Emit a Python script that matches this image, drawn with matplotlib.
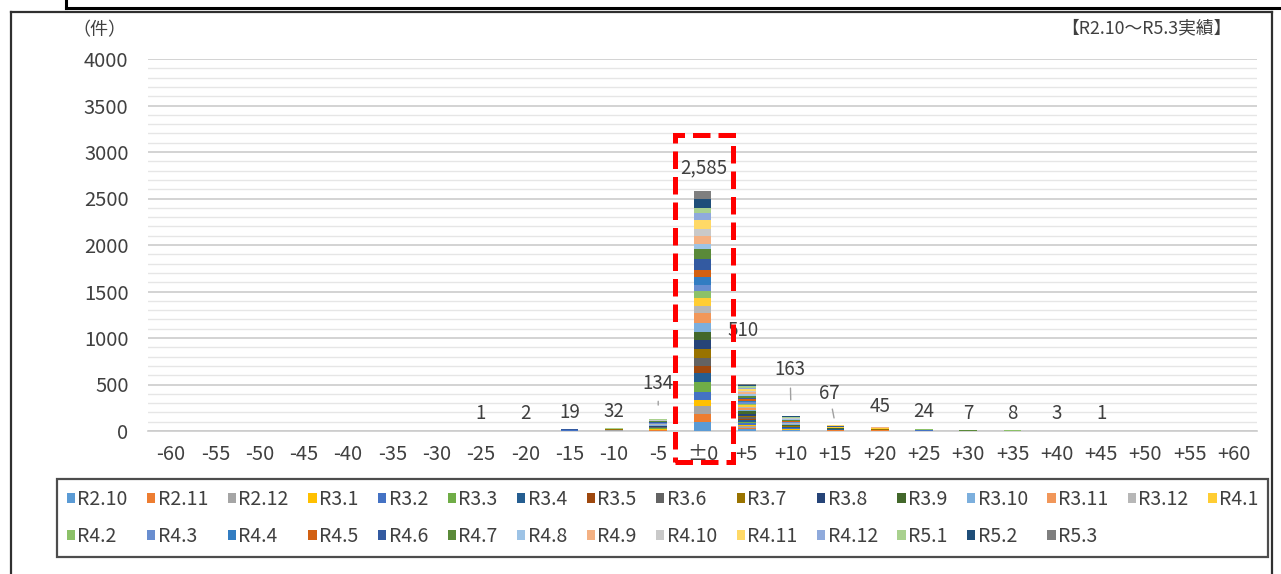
import matplotlib
matplotlib.use("Agg")
import matplotlib.pyplot as plt
from matplotlib.patches import Rectangle, Patch
from matplotlib.lines import Line2D
import numpy as np

plt.rcParams['font.family'] = ['Noto Sans CJK JP', 'DejaVu Sans']

# ---------------- data ----------------
categories = ["-60", "-55", "-50", "-45", "-40", "-35", "-30", "-25", "-20", "-15",
              "-10", "-5", "±0", "+5", "+10", "+15", "+20", "+25", "+30", "+35",
              "+40", "+45", "+50", "+55", "+60"]

series_names = ["R2.10", "R2.11", "R2.12", "R3.1", "R3.2", "R3.3", "R3.4", "R3.5",
                "R3.6", "R3.7", "R3.8", "R3.9", "R3.10", "R3.11", "R3.12", "R4.1",
                "R4.2", "R4.3", "R4.4", "R4.5", "R4.6", "R4.7", "R4.8", "R4.9",
                "R4.10", "R4.11", "R4.12", "R5.1", "R5.2", "R5.3"]

series_colors = ["#5B9BD5", "#ED7D31", "#A5A5A5", "#FFC000", "#4472C4", "#70AD47",
                 "#255E91", "#9E480E", "#636363", "#997300", "#264478", "#43682B",
                 "#7CAFDD", "#F1975A", "#B7B7B7", "#FFCD33", "#8CC168", "#698ED0",
                 "#327DC2", "#D26012", "#335AA1", "#5A8A39", "#9DC3E6", "#F4B183",
                 "#C9C9C9", "#FFD966", "#8FAADC", "#A9D18E", "#1F4E79", "#7F7F7F"]

# counts per series (in series order) for each non-empty category
cnt_m25 = [0,0,0,0,1,0,0,0,0,0,0,0,0,0,0,0,0,0,0,0,0,0,0,0,0,0,0,0,0,0]
cnt_m20 = [0,0,0,0,1,0,0,0,0,0,0,0,0,0,0,0,0,1,0,0,0,0,0,0,0,0,0,0,0,0]
cnt_m15 = [0,0,0,0,8,0,0,0,0,0,0,0,0,0,0,0,0,6,0,0,5,0,0,0,0,0,0,0,0,0]
cnt_m10 = [0,0,6,0,0,6,0,0,0,8,0,6,0,0,0,0,0,0,0,0,0,0,0,0,0,0,0,6,0,0]
cnt_m5  = [5,4,5,3,4,8,5,3,4,5,4,9,4,4,3,4,6,4,4,3,5,7,4,4,3,4,5,5,4,2]
cnt_0   = [100,86,79,68,86,104,104,72,83,97,100,90,90,108,72,90,72,72,79,75,
           122,108,54,90,72,93,79,54,97,89]
cnt_p5  = [18,15,20,14,16,19,17,13,18,15,22,24,16,18,14,17,15,19,16,14,20,15,18,22,
           17,19,16,13,15,15]
cnt_p10 = [6,5,4,7,5,6,5,4,6,6,5,7,5,6,4,5,5,6,5,4,6,5,7,6,5,4,6,5,8,5]
cnt_p15 = [3,3,2,3,2,3,2,1,2,3,2,3,2,3,2,3,2,2,3,2,2,1,2,3,2,3,2,1,2,1]
cnt_p20 = [2,4,1,2,1,2,1,1,1,2,1,1,2,4,1,2,1,1,2,1,1,1,1,4,1,1,1,1,1,0]
cnt_p25 = [1,1,1,1,3,1,1,0,1,1,1,1,1,1,0,1,1,1,1,0,1,1,1,0,0,1,1,0,0,0]
cnt_p30 = [0,0,1,0,0,1,0,0,1,0,0,1,0,0,0,0,1,0,0,0,0,1,0,0,0,0,0,1,0,0]
cnt_p35 = [0,0,0,1,0,1,0,0,0,1,0,1,0,0,0,1,1,0,0,0,0,1,0,0,0,0,0,1,0,0]
cnt_p40 = [0,0,1,0,0,0,0,0,0,0,0,0,0,0,1,0,0,0,0,0,0,0,0,0,1,0,0,0,0,0]
cnt_p45 = [0,0,1,0,0,0,0,0,0,0,0,0,0,0,0,0,0,0,0,0,0,0,0,0,0,0,0,0,0,0]

cat_counts = {"-25": cnt_m25, "-20": cnt_m20, "-15": cnt_m15, "-10": cnt_m10,
              "-5": cnt_m5, "±0": cnt_0, "+5": cnt_p5, "+10": cnt_p10,
              "+15": cnt_p15, "+20": cnt_p20, "+25": cnt_p25, "+30": cnt_p30,
              "+35": cnt_p35, "+40": cnt_p40, "+45": cnt_p45}

y_ticks = [0, 500, 1000, 1500, 2000, 2500, 3000, 3500, 4000]

# ---------------- build matrix ----------------
n_cat = len(categories)
n_ser = len(series_names)
mat = np.zeros((n_ser, n_cat))
for j, c in enumerate(categories):
    if c in cat_counts:
        mat[:, j] = cat_counts[c]
totals = mat.sum(axis=0)

# ---------------- figure ----------------
W, H = 1281, 574
fig = plt.figure(figsize=(W / 100, H / 100), dpi=100)
fig.patch.set_facecolor("white")

def fx(px):
    return px / W

def fy(py):
    return 1 - py / H

ax = fig.add_axes([fx(148), fy(431), fx(1257) - fx(148), fy(59) - fy(431)])
x = np.arange(n_cat)
bottom = np.zeros(n_cat)
for i in range(n_ser):
    ax.bar(x, mat[i], width=0.4, bottom=bottom, color=series_colors[i],
           edgecolor="none", zorder=3, label=series_names[i])
    bottom += mat[i]

ax.set_xlim(-0.52, n_cat - 0.48)
ax.set_ylim(0, 4000)
ax.set_yticks(y_ticks)
ax.set_yticklabels([str(t) for t in y_ticks])
ax.set_yticks(np.arange(0, 4001, 100), minor=True)
ax.grid(axis="y", which="major", color="#cccccc", lw=1.2, zorder=0)
ax.grid(axis="y", which="minor", color="#e6e6e6", lw=1.0, zorder=0)
ax.set_xticks(x)
ax.set_xticklabels(categories)
ax.tick_params(axis="both", which="both", length=0, colors="#404040")
ax.tick_params(axis="y", pad=14, labelsize=14.5)
ax.tick_params(axis="x", pad=9, labelsize=14.5)
for s in ["left", "right", "top"]:
    ax.spines[s].set_visible(False)
ax.spines["bottom"].set_color("#cccccc")
ax.spines["bottom"].set_linewidth(1.2)

# data labels (offsets in pixels above bar top; x offsets in pixels)
label_layout = {"-5": (0, 35.5), "±0": (1, 23), "+5": (-4, 53), "+10": (-1, 46),
                "+15": (-6, 31), "+20": (0, 20)}
leaders = {"-5": (3.6, 9.7), "+10": (3.6, 11.5), "+15": (1.5, 5.0)}
for j, c in enumerate(categories):
    if totals[j] <= 0:
        continue
    dx, dy = label_layout.get(c, (0, 17))
    txt = f"{int(totals[j]):,}"
    kw = {}
    if c in leaders:
        sa, sb = leaders[c]
        kw["arrowprops"] = dict(arrowstyle="-", color="#a0a0a0", lw=1.0,
                                shrinkA=sa, shrinkB=sb)
    ax.annotate(txt, xy=(j, totals[j]), xytext=(dx * 0.72, dy * 0.72),
                textcoords="offset points", ha="center", va="center",
                fontsize=13.5, color="#404040", zorder=5, **kw)

# texts
fig.text(fx(99), fy(30), "（件）", ha="center", va="center", fontsize=13,
         color="#404040")
fig.text(fx(1146), fy(28), "【R2.10～R5.3実績】", ha="center", va="center",
         fontsize=12.8, color="#404040")

# legend in row-major order
handles = [Patch(facecolor=series_colors[i], edgecolor="none") for i in range(n_ser)]
ncol = 16
order = []
for c in range(ncol):
    for r in range(2):
        k = r * ncol + c
        if k < n_ser:
            order.append(k)
leg = fig.legend([handles[k] for k in order], [series_names[k] for k in order],
                 ncol=ncol, loc="center",
                 bbox_to_anchor=(fx(57), fy(556), fx(1268) - fx(57), fy(480) - fy(556)),
                 mode="expand", fontsize=14, handlelength=0.42, handleheight=0.42,
                 handletextpad=0.12, columnspacing=0.2, labelspacing=0.85,
                 borderpad=0.5, borderaxespad=0, fancybox=False, frameon=True)
for t in leg.get_texts():
    t.set_color("#404040")
fr = leg.get_frame()
fr.set_edgecolor("#202020")
fr.set_linewidth(1.6)

# red dashed highlight box around ±0
fig.add_artist(Rectangle((fx(675), fy(461.5)), fx(733.5) - fx(675),
                         fy(134.5) - fy(461.5), transform=fig.transFigure,
                         fill=False, edgecolor="#FF0000", lw=3.6,
                         linestyle=(0, (3.5, 1.6)), zorder=10))

# outer frames
fig.add_artist(Line2D([fx(11), fx(11)], [fy(12), fy(574)], transform=fig.transFigure,
                      color="#303030", lw=1.6))
fig.add_artist(Line2D([fx(11), fx(1272)], [fy(12), fy(12)], transform=fig.transFigure,
                      color="#303030", lw=1.6))
fig.add_artist(Line2D([fx(1272), fx(1272)], [fy(12), fy(574)], transform=fig.transFigure,
                      color="#303030", lw=1.6))
fig.add_artist(Line2D([fx(66), fx(1281)], [fy(8), fy(8)], transform=fig.transFigure,
                      color="black", lw=2.2))
fig.add_artist(Line2D([fx(66), fx(66)], [fy(0), fy(8)], transform=fig.transFigure,
                      color="black", lw=2.2))

fig.savefig("out.png", dpi=100)
